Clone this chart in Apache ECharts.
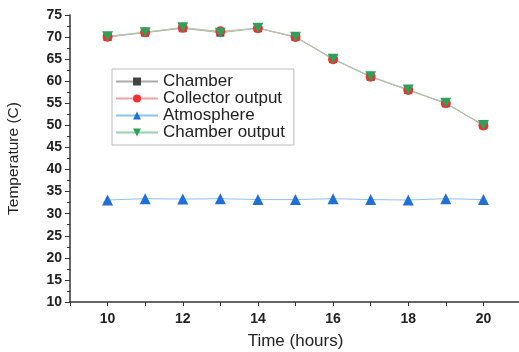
<!DOCTYPE html>
<html>
<head>
<meta charset="utf-8">
<script src="https://cdn.jsdelivr.net/npm/echarts@6/dist/echarts.min.js"></script>
<style>
  html, body { margin: 0; padding: 0; background: #fff; }
  #main { width: 519px; height: 352px; }
</style>
</head>
<body>
<div id="main"></div>
<script>
// hours on the x axis
var hours = [10, 11, 12, 13, 14, 15, 16, 17, 18, 19, 20];
// temperatures
var chamber = [70, 71, 72, 71, 72, 70, 65, 61, 58, 55, 50];
var collectorOutput = [70.1, 71.1, 72.1, 71.3, 72, 70, 65, 61, 58, 55, 50];
var atmosphere = [33.1, 33.4, 33.3, 33.4, 33.2, 33.2, 33.4, 33.2, 33.1, 33.4, 33.2];
var chamberOutput = [70.2, 71.1, 72.2, 71, 72.1, 70.1, 65.1, 61.1, 58.1, 55.1, 50.1];

function pairs(ys) {
  return hours.map(function (h, i) { return [h, ys[i]]; });
}

var myChart = echarts.init(document.getElementById('main'));
var option = {
  animation: false,
  textStyle: { fontFamily: 'Liberation Sans, Arial, sans-serif' },
  grid: { left: 70, top: 15, right: -2, bottom: 50, outerBoundsMode: 'none' },
  legend: {
    orient: 'vertical',
    left: 112, top: 69,
    itemWidth: 42, itemHeight: 10,
    itemGap: 0,
    padding: [4, 9, 4, 3],
    borderColor: '#bbb', borderWidth: 1,
    textStyle: { fontSize: 17, color: '#222' },
    data: ['Chamber', 'Collector output', 'Atmosphere', 'Chamber output']
  },
  xAxis: {
    type: 'value', min: 9, max: 21, interval: 1,
    name: 'Time (hours)', nameLocation: 'middle', nameGap: 31,
    nameTextStyle: { fontSize: 17, color: '#222' },
    axisLine: { lineStyle: { color: '#333', width: 1.5 } },
    axisTick: { length: 4, lineStyle: { color: '#333' } },
    splitLine: { show: false },
    axisLabel: {
      fontSize: 14, fontWeight: 'bold', color: '#222', margin: 10,
      formatter: function (v) { return v % 2 === 0 && v >= 10 && v <= 20 ? v : ''; }
    }
  },
  yAxis: {
    type: 'value', min: 10, max: 75, interval: 5,
    name: 'Temperature (C)', nameLocation: 'middle', nameGap: 48,
    nameTextStyle: { fontSize: 15.5, color: '#222' },
    axisLine: { show: true, lineStyle: { color: '#333', width: 1.5 } },
    axisTick: { show: true, length: 5, lineStyle: { color: '#333' } },
    minorTick: { show: true, splitNumber: 2, length: 3, lineStyle: { color: '#333' } },
    splitLine: { show: false },
    axisLabel: { fontSize: 14, fontWeight: 'bold', color: '#222', margin: 8 }
  },
  series: [
    {
      name: 'Chamber', type: 'line', data: pairs(chamber),
      symbol: 'rect', symbolSize: 8,
      itemStyle: { color: '#444' },
      lineStyle: { color: '#aaa', width: 1 }
    },
    {
      name: 'Collector output', type: 'line', data: pairs(collectorOutput),
      symbol: 'circle', symbolSize: 10,
      itemStyle: { color: '#f03030' },
      lineStyle: { color: '#f5a0a0', width: 1 }
    },
    {
      name: 'Atmosphere', type: 'line', data: pairs(atmosphere),
      symbol: 'triangle', symbolSize: 11,
      itemStyle: { color: '#1f6fd6' },
      lineStyle: { color: '#8fbff0', width: 1 }
    },
    {
      name: 'Chamber output', type: 'line', data: pairs(chamberOutput),
      symbol: 'path://M0,0 L10,0 L5,9 Z', symbolSize: [11, 10],
      itemStyle: { color: '#2ea05a' },
      lineStyle: { color: '#98d2ae', width: 1 }
    }
  ]
};
myChart.setOption(option);
</script>
</body>
</html>
